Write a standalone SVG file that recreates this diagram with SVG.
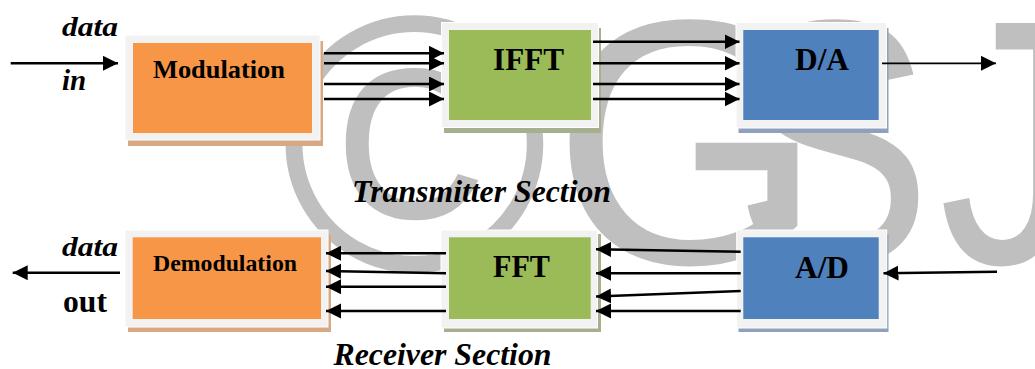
<svg xmlns="http://www.w3.org/2000/svg" width="1035" height="369" viewBox="0 0 1035 369">
<style>
.wm{font-family:"Liberation Sans",Arial,sans-serif;fill:#bfbfbf}
.frame{fill:#f2f2f2;stroke:#ffffff;stroke-width:1}
.orange{fill:#f79646}.green{fill:#9bbb59}.blue{fill:#4f81bd}
.sh-o{fill:#d6a884}.sh-g{fill:#a6b08c}.sh-b{fill:#8fa0bc}
.lbl{font-family:"Liberation Serif","Times New Roman",serif;font-weight:bold;fill:#000}
.it{font-style:italic}
.arr{stroke:#000;stroke-width:2.4;fill:none;marker-end:url(#ah)}
.thin{stroke-width:1.8}
</style>
<defs>
<marker id="ah" markerUnits="userSpaceOnUse" markerWidth="16" markerHeight="16" refX="15" refY="7.5" orient="auto">
<path d="M0,0 L15,7.5 L0,15 Z" fill="#000"/>
</marker>
</defs>
<rect width="1035" height="369" fill="#fff"/>
<g id="watermark">
<text class="wm" x="280" y="270" font-size="365">©</text>
<text class="wm" x="552" y="263" font-size="349">G</text>
<text class="wm" font-size="349" transform="translate(734,263) scale(0.85,1)">S</text>
<text class="wm" font-size="349" transform="translate(939,263) scale(0.81,1)">J</text>
</g>
<g id="modulation">
<rect class="sh-o" x="128" y="41" width="195" height="105"/>
<rect class="frame" x="125" y="35" width="195" height="105"/>
<rect class="orange" x="133" y="43" width="179" height="90"/>
<text class="lbl" x="153" y="78" font-size="25" textLength="132" lengthAdjust="spacingAndGlyphs">Modulation</text>
</g>
<g id="ifft">
<rect class="sh-g" x="444" y="28" width="157" height="105"/>
<rect class="frame" x="441.5" y="22.5" width="157" height="105"/>
<rect class="green" x="449" y="30" width="142" height="90"/>
<text class="lbl" x="493" y="70" font-size="32" textLength="71" lengthAdjust="spacingAndGlyphs">IFFT</text>
</g>
<g id="da">
<rect class="sh-b" x="738.5" y="28" width="150" height="105"/>
<rect class="frame" x="736" y="22.5" width="150.5" height="105.5"/>
<rect class="blue" x="743.3" y="30" width="135.4" height="90"/>
<text class="lbl" x="795" y="70" font-size="32" textLength="54" lengthAdjust="spacingAndGlyphs">D/A</text>
</g>
<g id="demodulation">
<rect class="sh-o" x="128" y="235" width="203" height="97"/>
<rect class="frame" x="125" y="230" width="203" height="97"/>
<rect class="orange" x="132.7" y="237.3" width="188.3" height="81.7"/>
<text class="lbl" x="153" y="270.5" font-size="23.5" textLength="144" lengthAdjust="spacingAndGlyphs">Demodulation</text>
</g>
<g id="fft">
<rect class="sh-g" x="444" y="234" width="157" height="98"/>
<rect class="frame" x="441" y="230" width="156.5" height="98"/>
<rect class="green" x="449" y="237.3" width="141.7" height="81.7"/>
<text class="lbl" x="493" y="277" font-size="31" textLength="57" lengthAdjust="spacingAndGlyphs">FFT</text>
</g>
<g id="ad">
<rect class="sh-b" x="738.5" y="234" width="150" height="98"/>
<rect class="frame" x="736.7" y="230" width="150" height="98"/>
<rect class="blue" x="743.3" y="237.3" width="135.4" height="81.7"/>
<text class="lbl" x="795" y="278" font-size="32" textLength="54" lengthAdjust="spacingAndGlyphs">A/D</text>
</g>
<g id="labels">
<text class="lbl it" x="62" y="36" font-size="27" textLength="56" lengthAdjust="spacingAndGlyphs">data</text>
<text class="lbl it" x="62" y="90" font-size="29">in</text>
<text class="lbl it" x="352" y="201.5" font-size="32" textLength="259" lengthAdjust="spacingAndGlyphs">Transmitter Section</text>
<text class="lbl it" x="62" y="256" font-size="27" textLength="56" lengthAdjust="spacingAndGlyphs">data</text>
<text class="lbl" x="63" y="311.5" font-size="31" textLength="44" lengthAdjust="spacingAndGlyphs">out</text>
<text class="lbl it" x="333.5" y="365" font-size="31" textLength="218" lengthAdjust="spacingAndGlyphs">Receiver Section</text>
</g>
<g id="connectors">
<line class="arr" x1="10.7" y1="63.3" x2="118" y2="63.3"/>
<line class="arr" x1="324" y1="53.3" x2="444" y2="53.3"/>
<line class="arr" x1="324" y1="63.3" x2="444" y2="63.3"/>
<line class="arr" x1="324" y1="84" x2="444" y2="84"/>
<line class="arr" x1="324" y1="99" x2="444" y2="99"/>
<line class="arr" x1="593" y1="41.7" x2="739.5" y2="41.7"/>
<line class="arr" x1="593" y1="63.3" x2="739.5" y2="63.3"/>
<line class="arr" x1="593" y1="84" x2="739.5" y2="84"/>
<line class="arr" x1="593" y1="99" x2="739.5" y2="99"/>
<line class="arr thin" x1="882" y1="63.3" x2="996" y2="63.3"/>
<line class="arr" x1="997" y1="271.7" x2="883.5" y2="273.3"/>
<line class="arr" x1="740.7" y1="251.7" x2="596" y2="249.3"/>
<line class="arr" x1="740.7" y1="273.3" x2="596" y2="273.3"/>
<line class="arr" x1="740.7" y1="291" x2="596" y2="296.5"/>
<line class="arr" x1="740.7" y1="311" x2="596" y2="311"/>
<line class="arr" x1="446" y1="253.3" x2="326" y2="253.3"/>
<line class="arr" x1="446" y1="273.3" x2="326" y2="271"/>
<line class="arr" x1="446" y1="286.7" x2="326" y2="286.7"/>
<line class="arr" x1="446" y1="311" x2="326" y2="311"/>
<line class="arr" x1="120" y1="272.7" x2="12.7" y2="272.7"/>
</g>
</svg>
